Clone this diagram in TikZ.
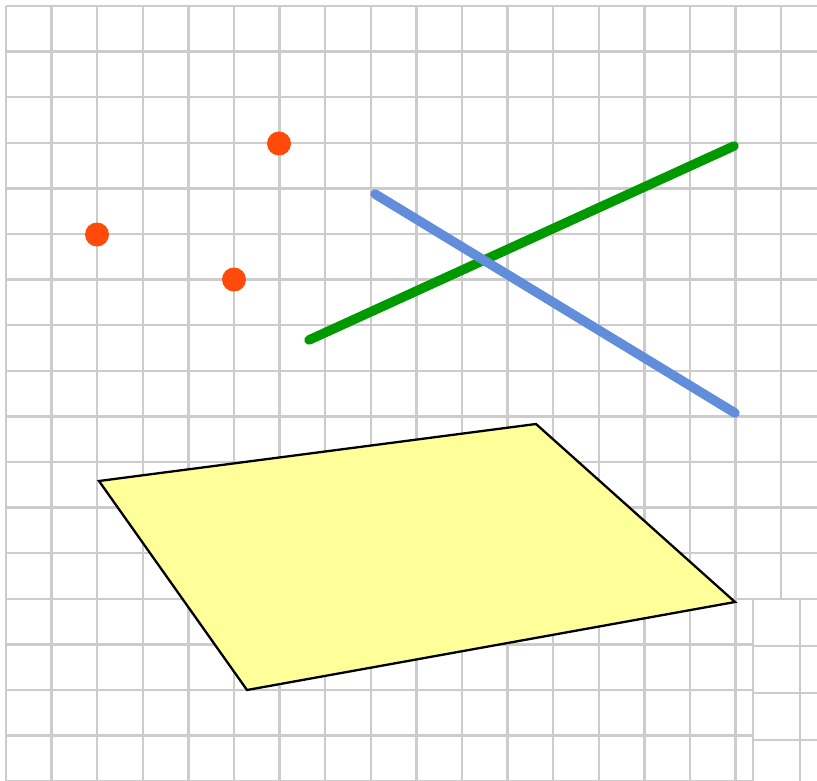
\documentclass[tikz,border=0pt]{standalone}
\usepackage{tikz}
\definecolor{gridgray}{HTML}{CCCCCC}
\definecolor{dotred}{HTML}{FF4A0A}
\definecolor{linegreen}{HTML}{009A00}
\definecolor{lineblue}{HTML}{628DDA}
\definecolor{paneyellow}{HTML}{FFFF99}
\tikzset{
  gridline/.style={draw=gridgray, line width=2.5pt},
  dot/.style={fill=dotred, draw=none},
  thickline/.style={line width=9.5pt, line cap=round},
  pane/.style={fill=paneyellow, draw=black, line width=2.3pt, line join=miter}
}
\begin{document}
\begin{tikzpicture}[x=1pt,y=-1pt]
\useasboundingbox (0,0) rectangle (817,781);
\fill[white] (0,0) rectangle (817,781);
% main grid
\foreach \k in {0,...,17} {
  \pgfmathsetmacro{\p}{6+45.6*\k}
  \draw[gridline] (\p,6) -- (\p,781);
}
\foreach \k in {0,...,17} {
  \pgfmathsetmacro{\p}{6+45.6*\k}
  \draw[gridline] (6,\p) -- (817,\p);
}
% bottom-right patch
\fill[white] (754.3,599) rectangle (817,781);
\foreach \p in {753,800} {
  \draw[gridline] (\p,599) -- (\p,781);
}
\foreach \p in {599,646,693,740} {
  \draw[gridline] (753,\p) -- (817,\p);
}
% dots
\coordinate (d1) at (279,143.5);
\coordinate (d2) at (97,234.5);
\coordinate (d3) at (234,279.5);
\foreach \d in {d1,d2,d3} \fill[dot] (\d) circle (12);
% lines
\coordinate (g1) at (309,340);
\coordinate (g2) at (734,146);
\coordinate (b1) at (375,194);
\coordinate (b2) at (735,413);
\draw[thickline, linegreen] (g1) -- (g2);
\draw[thickline, lineblue] (b1) -- (b2);
% pane
\coordinate (p1) at (99,481);
\coordinate (p2) at (536,424);
\coordinate (p3) at (735,602);
\coordinate (p4) at (247,690);
\draw[pane] (p1) -- (p2) -- (p3) -- (p4) -- cycle;
\end{tikzpicture}
\end{document}
